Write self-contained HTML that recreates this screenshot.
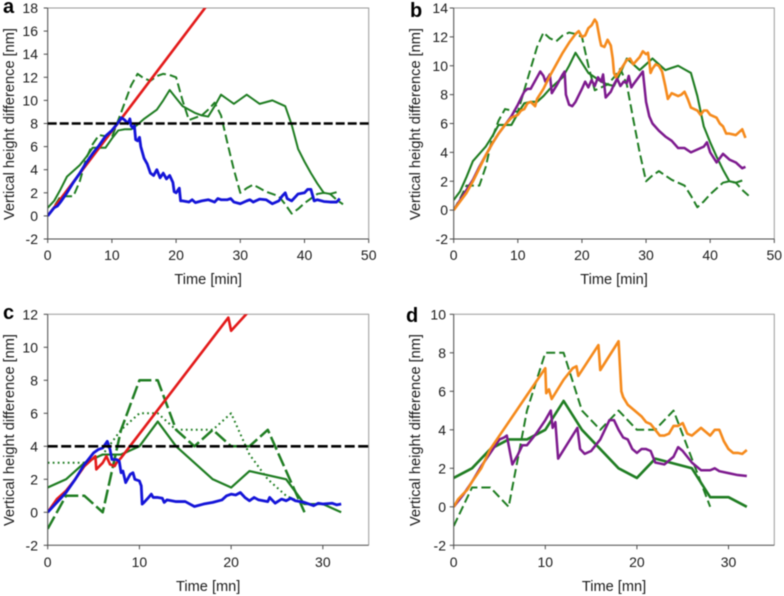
<!DOCTYPE html>
<html>
<head>
<meta charset="utf-8">
<style>
html,body{margin:0;padding:0;background:#fff;}
svg{display:block;font-family:"Liberation Sans",sans-serif;filter:blur(0.45px);}
</style>
</head>
<body>
<svg id="figure" width="784" height="596" viewBox="0 0 784 596" xmlns="http://www.w3.org/2000/svg"></svg>
<script>
// Shared green reference curves, panels a and b
const abSolidTime = [0,1,2,3,4,5,6,7,8,9,10,11,12,13,14,15,16,17,18,19,20,21,22,23,24,25,26,27,28,29,30,31,32,33,34,35,36,37,38,39,40,41,42,43,44,45];
const abSolidHeight = [0.7,1.3,2.3,3.4,3.9,4.4,5.1,5.9,5.9,5.9,6.7,7.4,7.5,7.5,7.9,8.4,8.8,9.2,10,10.9,10.2,9.5,9.2,8.9,8.7,8.6,9.5,10.5,10.1,9.7,10.1,10.5,10.1,9.7,9.85,10,9.75,9.5,7.9,5.8,4.7,3.7,2.8,2,1.9,2.05];
const abDashedTime = [0,1,2,3,4,5,6,7,8,9,10,11,12,13,14,15,16,17,18,19,20,21,22,23,24,25,26,27,28,29,30,31,32,33,34,35,36,37,38,39,40,41,42,43,44,45,46];
const abDashedHeight = [0,0.8,1.7,1.7,1.7,3,5,6.2,7,6.9,6.8,8.3,9.8,11.3,12.3,11.9,11.7,12.1,12.3,12.2,12,10,8.3,8.5,8.7,9.2,9.8,8.7,6.3,4,2,2.4,2.7,2.4,2.1,1.9,1.7,1,0.2,0.6,1.1,1.5,1.9,2,1.9,1.4,1];

// Panel a
const aRedTime = [0,26];
const aRedHeight = [0,19.1];
const aBlueTime = [0,1,1.5,2,3,4,5,6,7,8,
  9,10,11,11.5,12,12.5,12.8,13,13.3,13.5,
  13.7,14,14.3,14.5,15,15.5,16,16.5,17,17.5,
  18,18.5,19,19.5,19.7,20,20.5,20.7,21,22,
  22.5,23,24,25,26,26.5,27,28,28.5,29,
  30,31,31.5,32,33,34,35,36,36.5,37,
  37.3,38,39,40,40.5,41,41.5,42,43,44,
  45,45.5];
const aBlueHeight = [0,0.7,0.85,1.2,2,2.9,3.7,4.6,5.4,6.1,
  6.9,7.4,8.1,8.5,8.3,8,8.4,7.8,7.6,7.8,
  6.6,6.5,6.8,6,5,4.5,3.7,3.5,4,3.3,
  3.7,3.2,3.5,2.9,2.1,2,2.4,1.3,1.3,1.2,
  1.4,1.15,1.3,1.4,1.2,1.5,1.4,1.4,1.5,1.2,
  1.05,1.3,1.4,1.2,1.45,1.4,1.05,1.3,1.7,2,
  1.5,1.3,1.9,2,2.3,2.3,1.3,1.4,1.25,1.2,
  1.2,1.5];
const aThreshold = [8];

// Panel b
const bPurpleTime = [0,1,2,3,4,5,6,7,8,9,
  10,11,11.5,12,13,13.5,14,14.3,15,15.3,
  16,17,17.3,17.5,18,18.5,19,20,20.5,21,
  21.5,22,22.5,23,23.3,23.7,24.5,25,25.5,26,
  26.5,27,27.3,27.7,28,29,29.5,30,30.5,31,
  32,33,34,35,36,37,38,39,39.5,40,
  41,42,43,44,45,45.5];
const bPurpleHeight = [0,0.7,1.4,2.1,3,3.8,4.6,5.3,5.9,6.5,
  7.3,8.2,8.4,8.4,9.2,9.6,9.3,8.9,9.4,8.1,
  8.6,9.4,9.6,8,7.3,7.2,7.5,8.4,8.9,8.5,
  9,8.6,9.2,8.9,9.4,7.8,8.2,8.7,9.1,8.6,
  8.9,8.8,9.3,8.5,8.7,9.3,9.6,7.5,6.5,6,
  5.5,5.1,4.8,4.3,4.3,4,4.2,4.4,4.7,4,
  3.3,3.9,3.5,3.3,2.9,3];
const bOrangeTime = [0,1,2,3,4,5,6,7,8,9,
  10,10.5,11,11.5,12,12.7,13,14,15,16,
  17,18,19,19.5,20,20.5,21,21.5,22,22.3,
  22.8,23,23.5,24,24.5,24.8,25,25.3,26,27,
  27.5,28,29,29.5,30,30.3,30.5,30.7,31,31.5,
  32,32.5,33,33.4,34,35,35.5,36,36.5,37,
  38,38.5,39,39.5,40,41,41.5,42,42.5,43,
  44,45,45.5];
const bOrangeHeight = [0,0.6,1.2,2,2.9,3.8,4.6,5.3,5.9,6.4,
  6.6,6.9,7,7.4,7.5,7.2,7.7,8.4,9.3,10.1,
  10.9,11.6,12.2,12.4,12,12.1,12.6,12.8,13.2,13,
  11.8,11.4,11.3,11.8,11.4,10.5,9.5,9.2,9.7,10.4,
  10.5,10.1,10.6,11,10.8,10.9,10.3,9.5,9.8,10.1,
  10,9.6,8.6,7.7,8.1,7.9,8,8.2,7.7,7.1,
  6.9,6.6,6.9,6.9,6.6,6.4,6,5.8,5.3,5.3,
  5.2,5.6,5];

// Shared green reference curves, panels c and d
const cdSolidTime = [0,2,4,6,8,10,12,14,18,20,22,26,28,30,32];
const cdSolidHeight = [1.5,2,3,3.5,3.5,4,5.5,4,2,1.5,2.5,2,0.5,0.5,0];
const cdDashedTime = [0,2,4,6,8,10,12,14,16,18,20,22,24,28];
const cdDashedHeight = [-1,1,1,0,5,8,8,5,4,5,4,4,5,0];

// Panel c
const cDottedTime = [0,4,6,8,10,12,14,18,20,22,24,26,28];
const cDottedHeight = [3,3,3.5,5,6,6,5,5,6,3.5,2,1,0.5];
const cRedTime = [0,1,2,3,4,5.2,5.3,6,6.4,6.8,7.3,7.5,8,19.7,20,21.8];
const cRedHeight = [0,0.8,1.3,2,2.8,3.4,2.6,3,3.4,2.9,2.8,3,3.3,11.8,11,12.1];
const cBlueTime = [0,1,2,3,4,5,5.5,6,6.5,6.8,
  7,7.5,7.8,8,8.2,8.5,9,9.3,9.5,10,
  10.2,10.3,10.5,11,11.3,11.5,12,12.5,12.7,13,
  14,15,15.5,16,17,18,19,19.5,20,20.5,
  21,21.5,22,22.5,23,24,24.2,24.8,25.5,26,
  26.5,27,28,28.5,29,29.5,30,31,31.5,32];
const cBlueHeight = [0,0.6,1.2,2,2.9,3.6,3.8,3.9,4.3,3.8,
  3.2,3.2,3.1,2.4,2.5,1.8,2.3,2.4,2,1.9,
  1.6,0.5,0.6,0.9,1.1,0.9,0.9,0.85,0.6,0.75,
  0.65,0.65,0.5,0.35,0.5,0.6,0.75,1,1.1,1.05,
  1.2,0.9,0.7,0.9,0.75,0.65,0.9,0.55,0.8,0.7,
  0.85,0.7,0.6,0.5,0.4,0.55,0.5,0.55,0.45,0.5];
const cThreshold = [4];

// Panel d
const dPurpleTime = [0,1,2,3,4,5,5.5,5.8,6,6.4,
  7,7.5,8,9,10,10.6,10.8,11.1,11.4,13.5,
  13.8,14.3,15,16,17,17.5,18,18.5,19,19.5,
  20,20.5,21,21.5,22,23,24,24.5,25,26,
  27,28,28.5,29,30,31,32];
const dPurpleHeight = [0,0.6,1.3,2.1,2.8,3.5,3.6,3.7,3.2,2.2,
  2.7,3.2,3.2,3.8,4.5,5,4.1,4.4,2.5,4.1,
  3,2.75,2.9,3.5,4.5,4.5,4,3.6,3.5,3,
  2.8,3,3,2.9,2.3,2.2,2.6,3.1,2.9,2.3,
  1.9,1.9,2,1.85,1.75,1.65,1.6];
const dOrangeTime = [0,0.5,1,1.5,2,3,4,5,6,7,
  8,9,10,10.1,10.4,10.7,12,13,13.4,13.6,
  15.8,16,18,18.3,18.5,19,19.5,20,20.5,21,
  21.5,22,22.5,23,23.5,24,24.5,25,25.5,26,
  26.5,27,27.5,28,28.5,29,29.5,30,30.5,31,
  31.5,32];
const dOrangeHeight = [0,0.4,0.65,0.9,1.3,2,3,3.7,4.4,5.1,
  5.8,6.5,7.2,5.9,6.1,5.6,6.6,7.2,7.3,6.8,
  8.4,7.1,8.6,6,5.7,5.3,5.1,4.9,4.7,4.4,
  4.3,4,3.7,3.7,3.8,4.2,4.2,4.35,3.8,3.7,
  3.9,4.1,3.9,3.7,4,4,3.4,3,2.8,2.8,
  2.75,2.95];

// Axis tick labels
const xTicksLong = [0,10,20,30,40,50];
const xTicksShort = [0,10,20,30];
const yTicksA = [-2,0,2,4,6,8,10,12,14,16,18];
const yTicksB = [-2,0,2,4,6,8,10,12,14];
const yTicksC = [-2,0,2,4,6,8,10,12];
const yTicksD = [-2,0,2,4,6,8,10];

const GREEN = '#1f7d22';
const BLUE = '#1414d8';
const RED = '#e31a1a';
const ORANGE = '#f58a1c';
const PURPLE = '#7d1a8e';

const NS = 'http://www.w3.org/2000/svg';
const root = document.getElementById('figure');

function make(parent, tag, attrs) {
  const el = document.createElementNS(NS, tag);
  for (const k in attrs) el.setAttribute(k, attrs[k]);
  parent.appendChild(el);
  return el;
}

function drawPanel(p) {
  const g = make(root, 'g', {});
  
  
  const xs = v => p.left + (v - p.xMin) / (p.xMax - p.xMin) * (p.right - p.left);
  const ys = v => p.bottom - (v - p.yMin) / (p.yMax - p.yMin) * (p.bottom - p.top);

  const clipId = 'clip-' + p.id;
  const cp = make(make(g, 'defs', {}), 'clipPath', {id: clipId});
  make(cp, 'rect', {x: p.left, y: p.top, width: p.right - p.left + 3, height: p.bottom - p.top});

  const frame = make(g, 'path', {d: `M${p.left} ${p.top}H${p.right}V${p.bottom}`, fill: 'none', stroke: '#9a9a9a', 'stroke-width': 1});
  
  

  p.series.forEach(s => {
    const d = s.t.map((t, i) => (i ? 'L' : 'M') + xs(t).toFixed(2) + ' ' + ys(s.v[i]).toFixed(2)).join('');
    const line = make(g, 'path', {d: d, fill: 'none', stroke: s.color, 'stroke-width': s.w, 'stroke-linejoin': 'round', 'clip-path': `url(#${clipId})`});
    if (s.dash) line.setAttribute('stroke-dasharray', s.dash);
    
    
  });

  const axes = make(g, 'path', {d: `M${p.left} ${p.top}V${p.bottom}H${p.right}`, fill: 'none', stroke: '#4a4a4a', 'stroke-width': 1});
  
  

  if (p.threshold) {
    const ref = make(g, 'line', {x1: p.left, x2: p.right + 1.5, y1: ys(p.threshold[0]), y2: ys(p.threshold[0]), stroke: '#000', 'stroke-width': 2.6, 'stroke-dasharray': p.thresholdDash});
    
    
  }

  p.xTicks.forEach(v => {
    const tick = make(g, 'line', {x1: xs(v), x2: xs(v), y1: p.bottom, y2: p.bottom + 4, stroke: '#4a4a4a', 'stroke-width': 1});
    
    
    const label = make(g, 'text', {x: xs(v), y: p.xLabelY, 'text-anchor': 'middle', 'font-size': 14, fill: '#1a1a1a'});
    label.textContent = v;
    
    
  });

  p.yTicks.forEach(v => {
    const tick = make(g, 'line', {x1: p.left - 4, x2: p.left, y1: ys(v), y2: ys(v), stroke: '#4a4a4a', 'stroke-width': 1});
    
    
    const label = make(g, 'text', {x: p.yLabelX, y: ys(v) + 5, 'text-anchor': 'end', 'font-size': 14, fill: '#1a1a1a'});
    label.textContent = v;
    
    
  });

  const xt = make(g, 'text', {x: (p.left + p.right) / 2, y: p.xTitleY, 'text-anchor': 'middle', 'font-size': 14.6, fill: '#1a1a1a'});
  xt.textContent = p.xTitle;
  
  

  const yt = make(g, 'text', {transform: `translate(${p.yTitleX} ${p.yTitleC}) rotate(-90)`, 'text-anchor': 'middle', 'font-size': 14.6, fill: '#1a1a1a'});
  yt.textContent = 'Vertical height difference [nm]';
  
  

  const letter = make(g, 'text', {x: p.letterX, y: p.letterY, 'font-size': 20, 'font-weight': 'bold', fill: '#000'});
  letter.textContent = p.id;
  
  
}

drawPanel({
  id: 'a', left: 47.7, right: 368.7, top: 8, bottom: 239,
  xMin: 0, xMax: 50, yMin: -2, yMax: 18,
  xTicks: xTicksLong, yTicks: yTicksA, xLabelY: 260, yLabelX: 38, xTitleY: 284, xTitle: 'Time [min]',
  yTitleX: 14, yTitleC: 124, letterX: 3, letterY: 13,
  threshold: aThreshold, thresholdDash: '9 3',
  series: [
    {t: abSolidTime, v: abSolidHeight, color: GREEN, w: 2, name: 'green-solid-line'},
    {t: abDashedTime, v: abDashedHeight, color: GREEN, w: 2, dash: '9 4', name: 'green-dashed-line'},
    {t: aRedTime, v: aRedHeight, color: RED, w: 2.6, name: 'red-line'},
    {t: aBlueTime, v: aBlueHeight, color: BLUE, w: 2.8, name: 'blue-line'}
  ]
});

drawPanel({
  id: 'b', left: 453.7, right: 774.3, top: 8, bottom: 239,
  xMin: 0, xMax: 50, yMin: -2, yMax: 14,
  xTicks: xTicksLong, yTicks: yTicksB, xLabelY: 260, yLabelX: 448, xTitleY: 284, xTitle: 'Time [min]',
  yTitleX: 420, yTitleC: 124, letterX: 410, letterY: 17,
  series: [
    {t: abSolidTime, v: abSolidHeight, color: GREEN, w: 2.1, name: 'green-solid-line'},
    {t: abDashedTime, v: abDashedHeight, color: GREEN, w: 2, dash: '9 4', name: 'green-dashed-line'},
    {t: bPurpleTime, v: bPurpleHeight, color: PURPLE, w: 2.5, name: 'purple-line'},
    {t: bOrangeTime, v: bOrangeHeight, color: ORANGE, w: 2.6, name: 'orange-line'}
  ]
});

drawPanel({
  id: 'c', left: 47.7, right: 368.7, top: 314.3, bottom: 545.3,
  xMin: 0, xMax: 35, yMin: -2, yMax: 12,
  xTicks: xTicksShort, yTicks: yTicksC, xLabelY: 567, yLabelX: 38, xTitleY: 591, xTitle: 'Time [mn]',
  yTitleX: 14, yTitleC: 430, letterX: 3, letterY: 319,
  threshold: cThreshold, thresholdDash: '10 3.5',
  series: [
    {t: cDottedTime, v: cDottedHeight, color: GREEN, w: 2, dash: '1.8 3.2', name: 'green-dotted-line'},
    {t: cdDashedTime, v: cdDashedHeight, color: GREEN, w: 2.5, dash: '14 4', name: 'green-dashed-line'},
    {t: cdSolidTime, v: cdSolidHeight, color: GREEN, w: 2.2, name: 'green-solid-line'},
    {t: cRedTime, v: cRedHeight, color: RED, w: 2.6, name: 'red-line'},
    {t: cBlueTime, v: cBlueHeight, color: BLUE, w: 2.8, name: 'blue-line'}
  ]
});

drawPanel({
  id: 'd', left: 453.7, right: 774.3, top: 314.3, bottom: 545.3,
  xMin: 0, xMax: 35, yMin: -2, yMax: 10,
  xTicks: xTicksShort, yTicks: yTicksD, xLabelY: 567, yLabelX: 446, xTitleY: 591, xTitle: 'Time [mn]',
  yTitleX: 420, yTitleC: 430, letterX: 406, letterY: 322,
  series: [
    {t: cdDashedTime, v: cdDashedHeight, color: GREEN, w: 2, dash: '9 4', name: 'green-dashed-line'},
    {t: cdSolidTime, v: cdSolidHeight, color: GREEN, w: 2.6, name: 'green-solid-line'},
    {t: dPurpleTime, v: dPurpleHeight, color: PURPLE, w: 2.5, name: 'purple-line'},
    {t: dOrangeTime, v: dOrangeHeight, color: ORANGE, w: 2.6, name: 'orange-line'}
  ]
});
</script>
</body>
</html>
